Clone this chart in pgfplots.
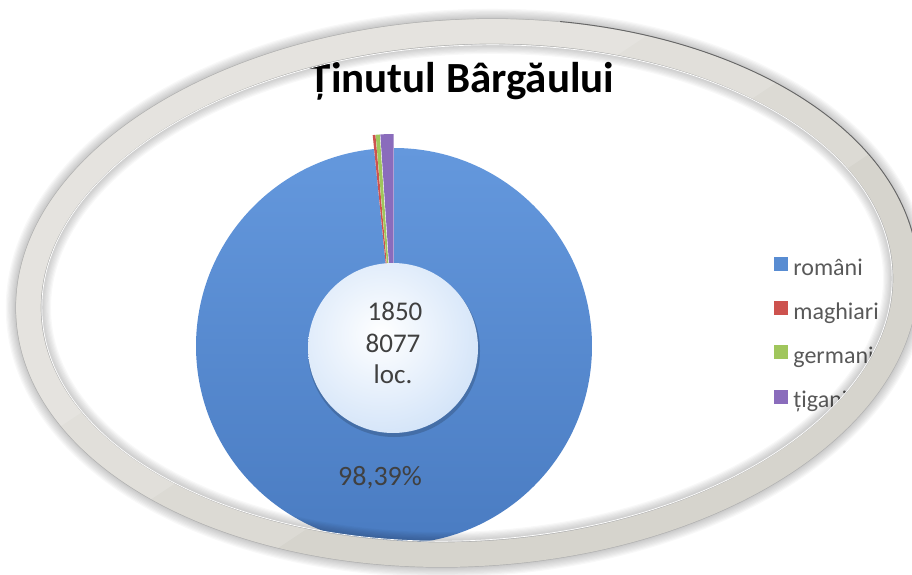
\documentclass[border=0pt]{standalone}
\usepackage{fontspec}
\setmainfont{Carlito}
\usepackage{pgfplots}
\usepackage{pgfplotstable}
\pgfplotsset{compat=1.18}

\definecolor{cblue}{RGB}{88,140,210}
\definecolor{cbluetop}{RGB}{100,152,221}
\definecolor{cbluebot}{RGB}{74,124,194}
\definecolor{cred}{RGB}{205,82,78}
\definecolor{cgreen}{RGB}{160,198,92}
\definecolor{cpurple}{RGB}{138,108,188}
\definecolor{holeout}{RGB}{176,206,243}
\definecolor{bandcol}{RGB}{214,212,205}
\definecolor{textgray}{RGB}{64,64,64}
\definecolor{legendgray}{RGB}{89,89,89}

% population of Tinutul Bargaului, 1850 (percent)
\pgfplotstableread{
label value color
români 98.39 cblue
maghiari 0.22 cred
germani 0.33 cgreen
țigani 1.06 cpurple
}\pietable

\begin{document}
\begin{tikzpicture}
\begin{axis}[
  scale only axis, width=912pt, height=574pt,
  xmin=0, xmax=912, ymin=0, ymax=574,
  hide axis,
  legend image code/.code={\fill[#1] (0pt,-1pt) rectangle (13pt,12pt);},
  legend cell align=left,
  legend style={at={(axis description cs:0.8487,0.5523)}, anchor=north west,
    draw=none, fill=none, inner sep=0pt, outer sep=0pt,
    column sep=6pt, row sep=20pt,
    nodes={inner sep=0pt, text height=18pt, text depth=6pt,
      font=\fontsize{24}{28}\selectfont, text=legendgray}},
]
\def\astart{90}
\pgfplotsforeachungrouped \i in {0,...,3}{%
  \pgfplotstablegetelem{\i}{value}\of\pietable \let\val\pgfplotsretval
  \pgfplotstablegetelem{\i}{color}\of\pietable \let\col\pgfplotsretval
  \pgfmathsetmacro\aend{\astart-3.6*\val}%
  \pgfmathsetmacro\amid{(\astart+\aend)/2}%
  \ifnum\i=0 \def\ex{0}\else\def\ex{14}\fi
  \pgfmathsetmacro\ox{394+\ex*cos(\amid)}%
  \pgfmathsetmacro\oy{228+\ex*sin(\amid)}%
  \pgfmathsetmacro\sx{\ox+198*cos(\astart)}%
  \pgfmathsetmacro\sy{\oy+198*sin(\astart)}%
  \ifnum\i=0
    \edef\cmd{\noexpand\shade[top color=cbluetop,bottom color=cbluebot] (axis cs:\ox,\oy) -- (axis cs:\sx,\sy) arc[start angle=\astart,end angle=\aend,radius=198pt] -- cycle;}%
  \else
    \edef\cmd{\noexpand\fill[\col] (axis cs:\ox,\oy) -- (axis cs:\sx,\sy) arc[start angle=\astart,end angle=\aend,radius=198pt] -- cycle;}%
  \fi
  \cmd
  \global\let\astart\aend
}

% doughnut hole
\fill[black!40!cblue, opacity=0.45] (axis cs:394,223) circle[radius=86pt];
\begin{scope}
  \clip (axis cs:393,226) circle[radius=85pt];
  \shade[inner color=white, outer color=holeout] (axis cs:381,240) circle[radius=190pt];
\end{scope}

\node[font=\fontsize{27}{32}\selectfont, text=textgray, anchor=base] at (axis cs:395,254) {1850};
\node[font=\fontsize{27}{32}\selectfont, text=textgray, anchor=base] at (axis cs:393,222) {8077};
\node[font=\fontsize{27}{32}\selectfont, text=textgray, anchor=base] at (axis cs:393,191) {loc.};
\node[font=\fontsize{28}{32}\selectfont, text=textgray, anchor=base] at (axis cs:380,89) {98,39\%};

\node[font=\fontsize{43}{50}\selectfont\bfseries, anchor=base] at (axis cs:462,481) {Ținutul Bârgăului};

\addlegendimage{cblue}\addlegendentry{români}
\addlegendimage{cred}\addlegendentry{maghiari}
\addlegendimage{cgreen}\addlegendentry{germani}
\addlegendimage{cpurple}\addlegendentry{țigani}
\end{axis}

% the oval frame drawn over the chart
\begin{scope}[x=1pt, y=1pt]
  \clip (0,0) rectangle (912,574);
  \path[save path=\bandp, rotate around={3:(467,281)}] (467,281) ellipse [x radius=439, y radius=261];
  \foreach \k in {8,...,1}
    \draw[use path=\bandp, line width={26pt+2.4pt*\k}, black, opacity=0.028];
  \draw[use path=\bandp, line width=0.7pt, black!30, double=bandcol, double distance=24.6pt];
  \foreach \c in {700,900,1100}{
    \begin{scope}
      \clip (0,574) -- (\c,574) -- (0,574-\c/1.5) -- cycle;
      \draw[use path=\bandp, line width=24.4pt, white, opacity=0.15];
    \end{scope}
  }
  \begin{scope}
    \clip (560,574) rectangle (912,330);
    \path[save path=\outerp, rotate around={3:(467,281)}] (467,281) ellipse [x radius=452, y radius=274];
    \draw[use path=\outerp, line width=0.9pt, black!60];
  \end{scope}
  \path[save path=\innerp, rotate around={3:(467,281)}] (467,281) ellipse [x radius=425.5, y radius=247.5];
  \draw[use path=\innerp, line width=0.7pt, white];
\end{scope}
\pgfresetboundingbox
\path[use as bounding box] (0,0) rectangle (912pt,574pt);
\end{tikzpicture}
\end{document}
